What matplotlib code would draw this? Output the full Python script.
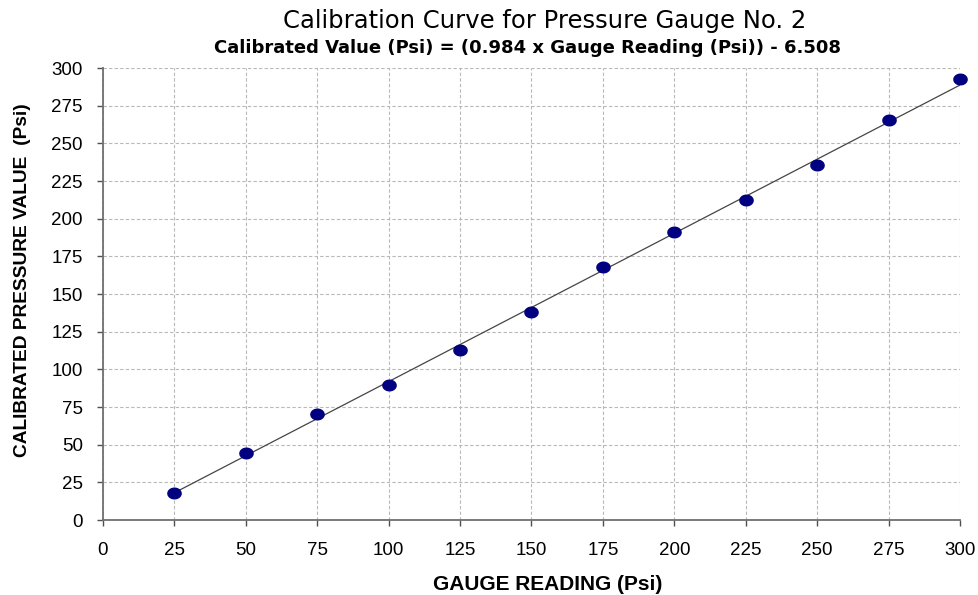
# Calibration curve for pressure gauge no. 2
import matplotlib.pyplot as plt
import numpy as np
from matplotlib.path import Path

# --- data ---
gauge_reading = [25, 50, 75, 100, 125, 150, 175, 200, 225, 250, 275, 300]
calibrated = [18.1, 44.3, 70.3, 89.6, 112.8, 137.8, 168.1, 191.3, 212.1, 235.6, 265.4, 292.4]
slope = 0.984
intercept = -6.508
x_ticks = list(range(0, 301, 25))
y_ticks = list(range(0, 301, 25))

plt.rcParams['font.family'] = ['Liberation Sans', 'DejaVu Sans']

fig = plt.figure(figsize=(9.79, 5.95), dpi=100)
ax = fig.add_axes([0.1052, 0.126, 0.8754, 0.7597])

# trend line
fit_x = np.array([gauge_reading[0], gauge_reading[-1]])
ax.plot(fit_x, slope * fit_x + intercept, color='#454545', lw=0.9, zorder=3)

# slightly wide ellipse marker like the original
t = np.linspace(0, 2 * np.pi, 60)
ellipse = Path(np.column_stack([1.25 * np.cos(t), np.sin(t)]), closed=True)
ax.plot(gauge_reading, calibrated, linestyle='none', marker=ellipse, color='#000080',
        markersize=9.5, markeredgecolor='#000080', zorder=4, clip_on=False)

ax.set_xlim(0, 300)
ax.set_ylim(0, 300)
ax.set_xticks(x_ticks)
ax.set_yticks(y_ticks)
ax.grid(True, color='#b8b8b8', linestyle=(0, (3, 2)), lw=0.8)
ax.set_axisbelow(True)

for s in ['top', 'right']:
    ax.spines[s].set_visible(False)
for s in ['left', 'bottom']:
    ax.spines[s].set_color('#707070')
    ax.spines[s].set_linewidth(1.3)

ax.tick_params(axis='both', colors='#505050', labelcolor='black', labelsize=13.5,
               length=4.5, width=1)
ax.tick_params(axis='x', pad=11)
ax.tick_params(axis='y', pad=10)

fig.text(548 / 979, 0.009, 'GAUGE READING (Psi)', ha='center', va='baseline',
         fontsize=15, fontweight='bold')
fig.text(0.023, 0.529, 'CALIBRATED PRESSURE VALUE  (Psi)', ha='center', va='center',
         rotation=90, fontsize=13.8, fontweight='bold')

fig.text(545 / 979, 0.9524, 'Calibration Curve for Pressure Gauge No. 2', ha='center',
         va='baseline', fontsize=17.5, family=['DejaVu Sans'])
fig.text(528 / 979, 0.9104, 'Calibrated Value (Psi) = (0.984 x Gauge Reading (Psi)) - 6.508',
         ha='center', va='baseline', fontsize=13, fontweight='bold', family=['DejaVu Sans'])

fig.savefig('out.png', dpi=100)
